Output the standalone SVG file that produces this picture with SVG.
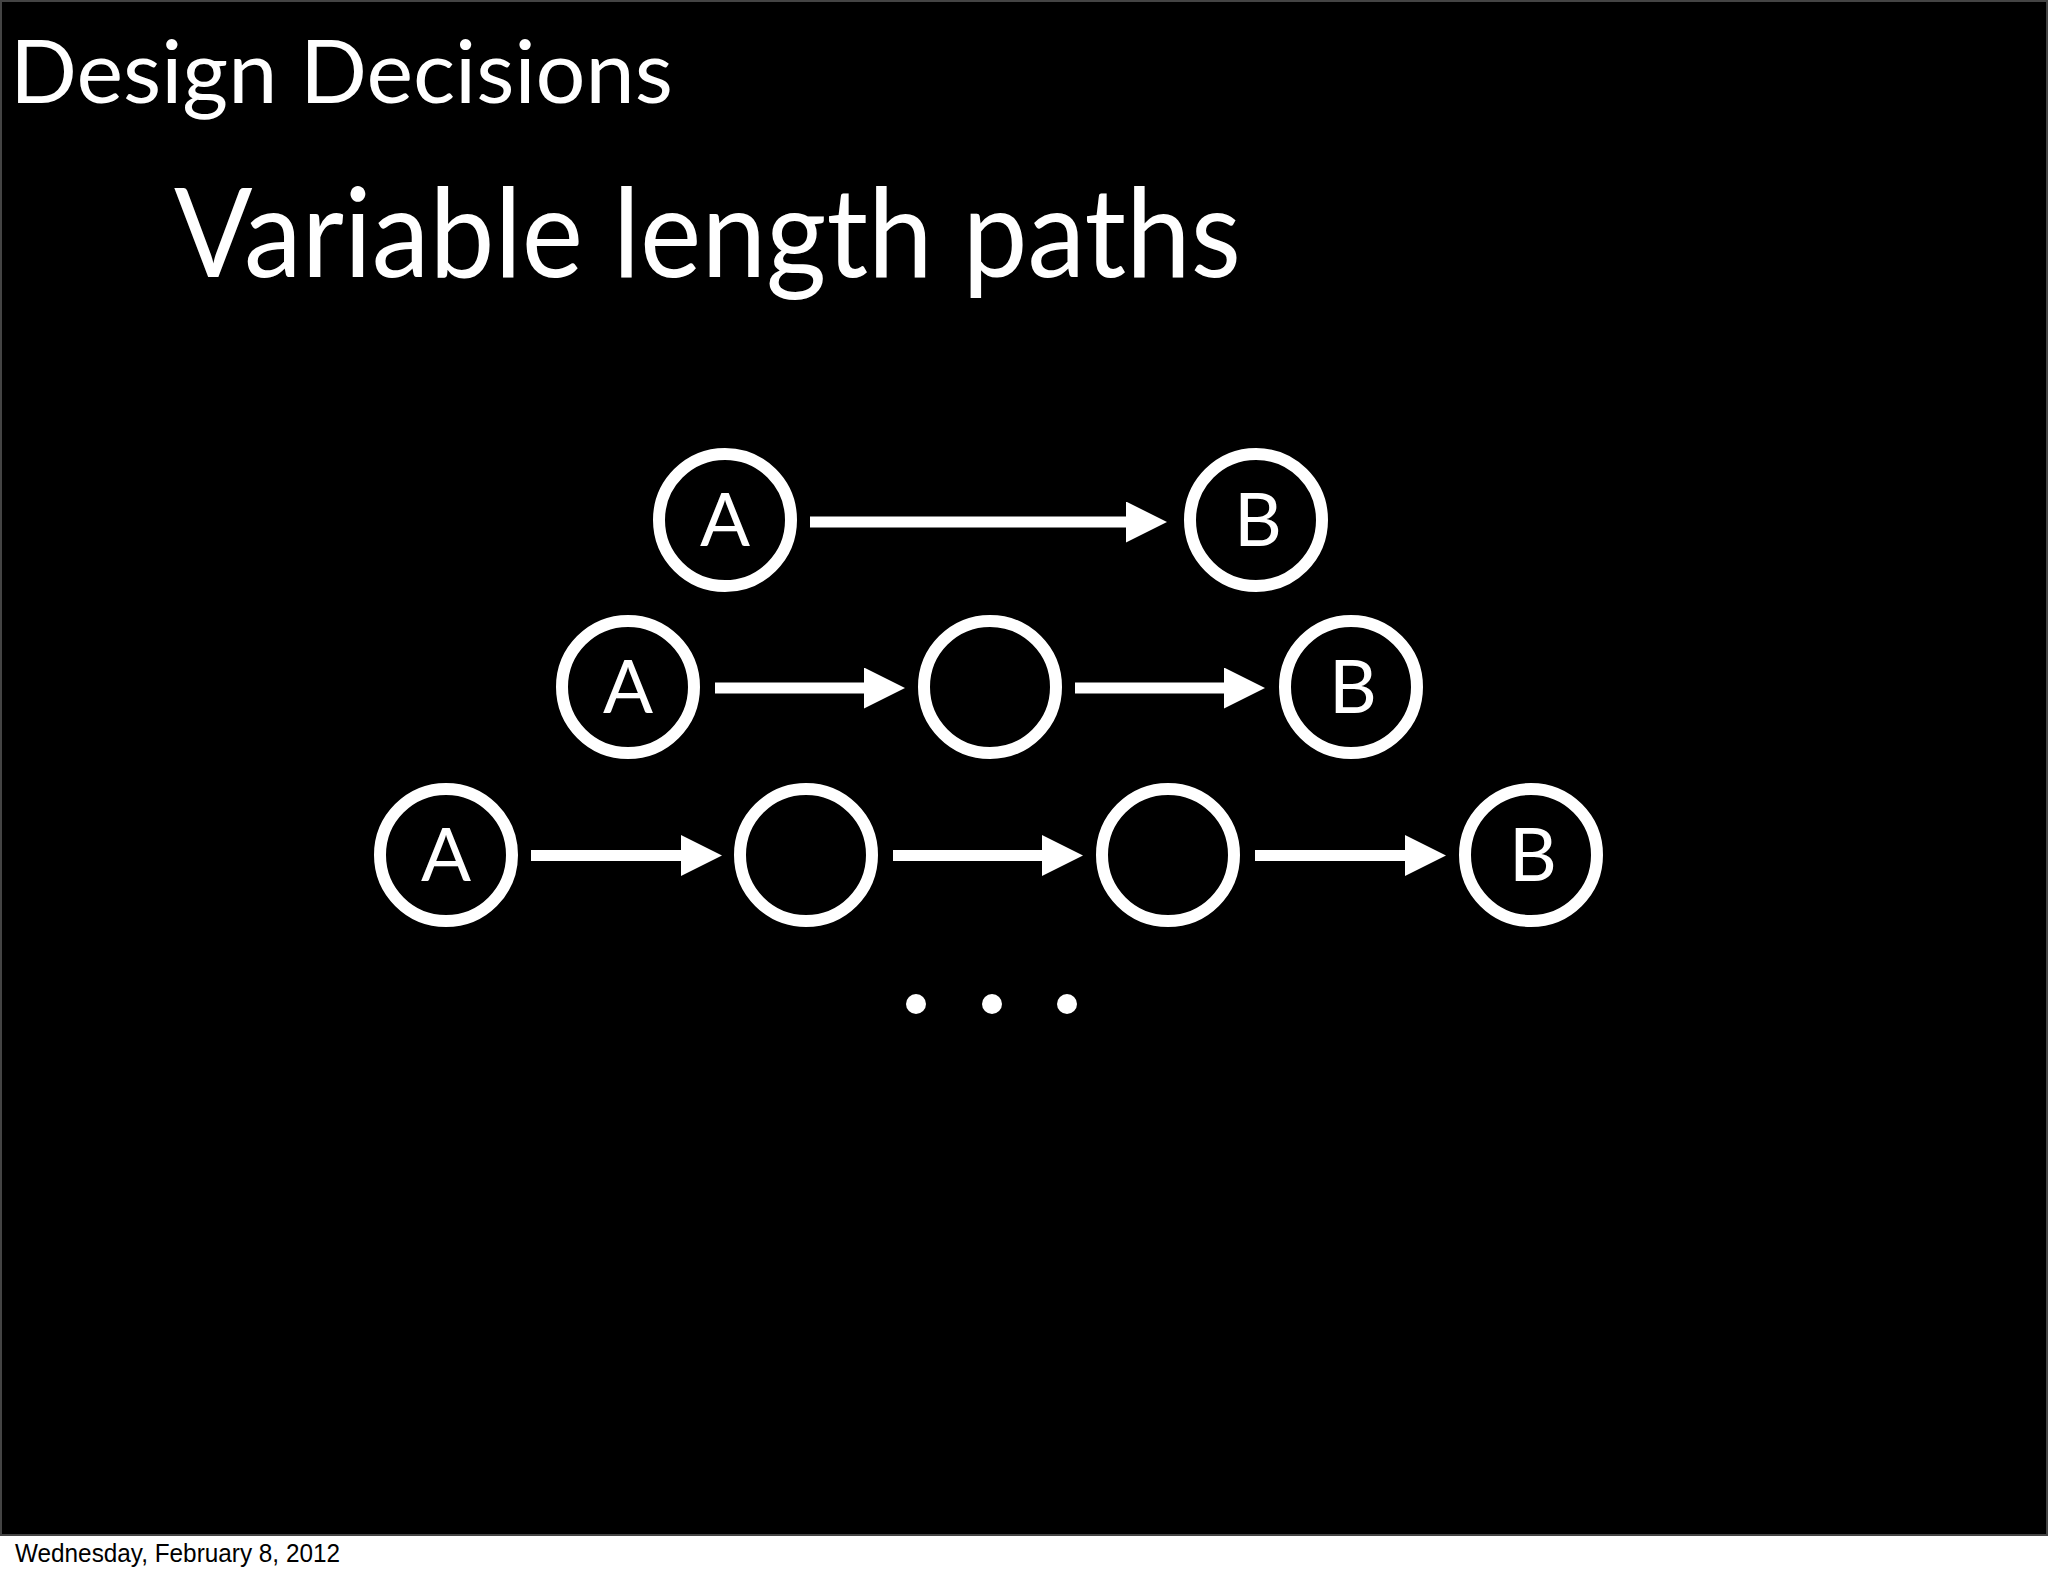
<svg xmlns="http://www.w3.org/2000/svg" width="2048" height="1576" viewBox="0 0 2048 1576">
<style>
.node circle{fill:none;stroke:#fff;stroke-width:12}
.lbl{font-family:Lato,"Open Sans","Liberation Sans",sans-serif;font-size:74px;fill:#fff;text-anchor:middle}
.edge{stroke:#fff;stroke-width:11;fill:none}
.title{font-family:Lato,"Open Sans","Liberation Sans",sans-serif;fill:#fff}
</style>
<defs>
<marker id="ah" markerUnits="userSpaceOnUse" markerWidth="42" markerHeight="42" refX="1" refY="20.5" orient="auto">
<path d="M0,0 L41,20.5 L0,41 Z" fill="#fff"/>
</marker>
</defs>
<rect x="0" y="0" width="2048" height="1576" fill="#fff"/>
<rect x="1" y="1" width="2046" height="1534" fill="#000" stroke="#444" stroke-width="2"/>
<text class="title" x="10" y="103" font-size="88" textLength="663" lengthAdjust="spacingAndGlyphs">Design Decisions</text>
<text class="title" x="174" y="277" font-size="124" textLength="1067" lengthAdjust="spacingAndGlyphs">Variable length paths</text>
<g id="connectors">
<line class="edge" x1="810" y1="522" x2="1127" y2="522" marker-end="url(#ah)"/>
<line class="edge" x1="715" y1="688" x2="865" y2="688" marker-end="url(#ah)"/>
<line class="edge" x1="1075" y1="688" x2="1225" y2="688" marker-end="url(#ah)"/>
<line class="edge" x1="531" y1="855.5" x2="682" y2="855.5" marker-end="url(#ah)"/>
<line class="edge" x1="893" y1="855.5" x2="1043" y2="855.5" marker-end="url(#ah)"/>
<line class="edge" x1="1255" y1="855.5" x2="1406" y2="855.5" marker-end="url(#ah)"/>
</g>
<g id="r1-a" class="node"><circle cx="725" cy="520" r="66"/><text class="lbl" x="725" y="546">A</text></g>
<g id="r1-b" class="node"><circle cx="1256" cy="520" r="66"/><text class="lbl" x="1258" y="546">B</text></g>
<g id="r2-a" class="node"><circle cx="628" cy="687" r="66"/><text class="lbl" x="628" y="713">A</text></g>
<g id="r2-m" class="node"><circle cx="990" cy="687" r="66"/></g>
<g id="r2-b" class="node"><circle cx="1351" cy="687" r="66"/><text class="lbl" x="1353" y="713">B</text></g>
<g id="r3-a" class="node"><circle cx="446" cy="855" r="66"/><text class="lbl" x="446" y="881">A</text></g>
<g id="r3-m1" class="node"><circle cx="806" cy="855" r="66"/></g>
<g id="r3-m2" class="node"><circle cx="1168" cy="855" r="66"/></g>
<g id="r3-b" class="node"><circle cx="1531" cy="855" r="66"/><text class="lbl" x="1533" y="881">B</text></g>
<g id="ellipsis" fill="#fff">
<circle cx="916" cy="1004" r="10"/>
<circle cx="992" cy="1004" r="10"/>
<circle cx="1067" cy="1004" r="10"/>
</g>
<text x="15" y="1562" font-family="'Liberation Sans',Arial,sans-serif" font-size="25" fill="#000" textLength="325" lengthAdjust="spacingAndGlyphs">Wednesday, February 8, 2012</text>
</svg>
